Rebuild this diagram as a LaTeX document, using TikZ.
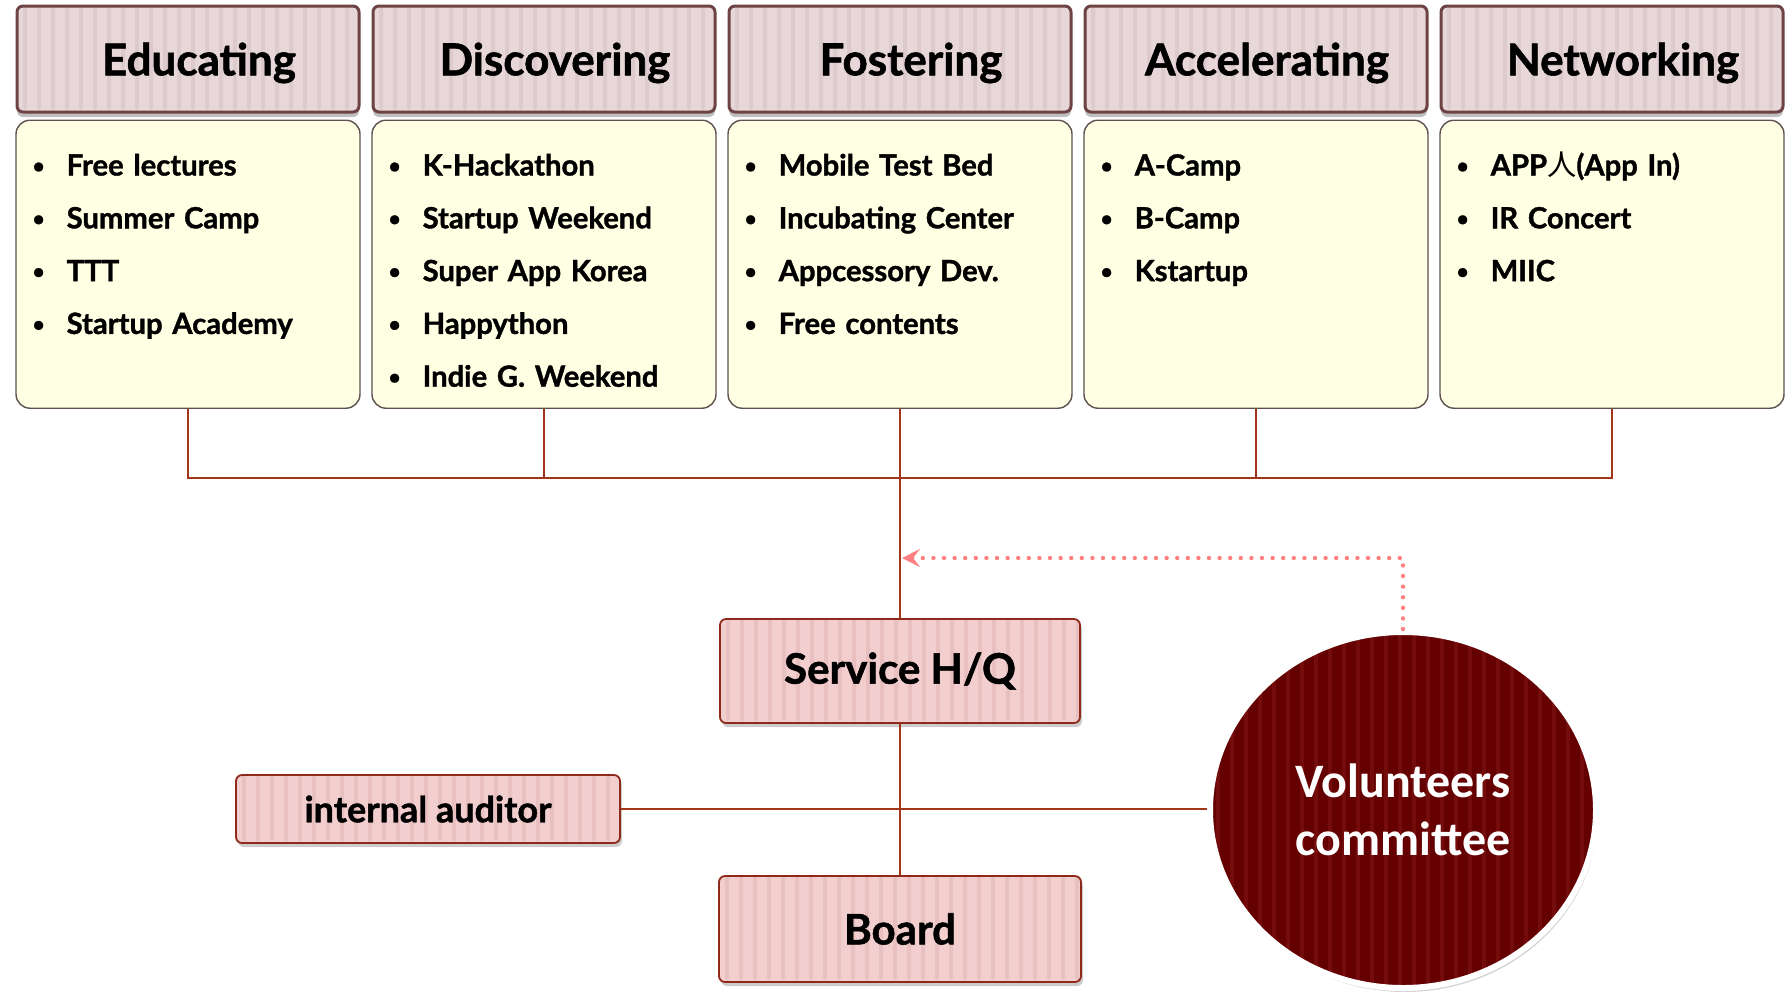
\documentclass[tikz,border=0pt]{standalone}
\usepackage{fontspec}
\setmainfont{Lato}[BoldFeatures={FakeBold=1.3}]
\newfontfamily\calfont{Carlito}
\newfontfamily\cjk{Noto Sans CJK KR}
\usetikzlibrary{shapes.geometric, arrows.meta, positioning, calc, shadows}

\definecolor{headfill}{RGB}{231, 215, 217}
\definecolor{headstripe}{RGB}{220, 202, 205}
\definecolor{headdraw}{RGB}{110, 67, 67}
\definecolor{listfill}{RGB}{255, 255, 228}
\definecolor{listdraw}{RGB}{94, 80, 80}
\definecolor{orgfill}{RGB}{242, 206, 206}
\definecolor{orgstripe}{RGB}{232, 192, 192}
\definecolor{orgdraw}{RGB}{143, 42, 26}
\definecolor{linkred}{RGB}{163, 53, 25}
\definecolor{dotred}{RGB}{255, 128, 128}
\definecolor{volfill}{RGB}{101, 0, 0}
\definecolor{volstripe}{RGB}{116, 12, 12}

\newcommand{\itembul}{\makebox[17pt][l]{\raisebox{1.2pt}{\scalebox{0.7}{\textbullet}}}}
\newcommand{\headpad}{\hspace*{11pt}}

\tikzset{
  stripes/.style={path picture={
    \foreach \k in {0,...,30}
      \fill[#1] ($(path picture bounding box.south west)+(\k*14+6,0)$) rectangle ++(4,-440);
  }},
  headbox/.style={draw=headdraw, line width=1.5pt, fill=headfill, stripes=headstripe,
    rounded corners=3pt, minimum width=171pt, minimum height=53pt, text depth=0pt,
    font=\fontsize{22}{25}\selectfont\bfseries,
    drop shadow={opacity=0.5, shadow xshift=0pt, shadow yshift=-2.5pt}},
  listbox/.style={draw=listdraw, line width=0.7pt, fill=listfill,
    rounded corners=7pt, minimum width=172pt, minimum height=144pt},
  itemtext/.style={anchor=base west, align=left, inner sep=0pt, text width=165pt,
    font=\fontsize{14.6}{26.4}\selectfont\bfseries},
  orgbox/.style={draw=orgdraw, line width=0.9pt, fill=orgfill, stripes=orgstripe,
    rounded corners=3pt, drop shadow={opacity=0.4, shadow xshift=1pt, shadow yshift=-2pt}},
  link/.style={draw=linkred, line width=0.9pt},
  feedback/.style={draw=dotred, line width=2.2pt, line cap=round,
    dash pattern=on 0pt off 5.3pt,
    -{Stealth[length=9pt, width=9pt, inset=3.5pt]}}
}

\begin{document}
\begin{tikzpicture}[x=0.5pt, y=-0.5pt]
  \useasboundingbox (0,0) rectangle (1786,993);

  % Headers
  \node[headbox] (educHead) at (188,59) {\headpad Educating};
  \node[headbox] (discHead) at (544,59) {\headpad Discovering};
  \node[headbox] (fostHead) at (900,59) {\headpad Fostering};
  \node[headbox] (accHead) at (1256,59) {\headpad Accelerating};
  \node[headbox] (netHead) at (1612,59) {\headpad Networking};

  % Program boxes
  \node[listbox, below=3pt of educHead] (educBox) {};
  \node[listbox, below=3pt of discHead] (discBox) {};
  \node[listbox, below=3pt of fostHead] (fostBox) {};
  \node[listbox, below=3pt of accHead] (accBox) {};
  \node[listbox, below=3pt of netHead] (netBox) {};

  \node[itemtext] (educItems) at ($(educBox.north west)+(17,56)$) {
    \itembul Free lectures\\ \itembul Summer Camp\\ \itembul TTT\\ \itembul Startup Academy};
  \node[itemtext] (discItems) at ($(discBox.north west)+(17,56)$) {
    \itembul K-Hackathon\\ \itembul Startup Weekend\\ \itembul Super App Korea\\
    \itembul Happython\\ \itembul Indie G. Weekend};
  \node[itemtext] (fostItems) at ($(fostBox.north west)+(17,56)$) {
    \itembul Mobile Test Bed\\ \itembul Incubating Center\\ \itembul Appcessory Dev.\\
    \itembul Free contents};
  \node[itemtext] (accItems) at ($(accBox.north west)+(17,56)$) {
    \itembul A-Camp\\ \itembul B-Camp\\ \itembul Kstartup};
  \node[itemtext] (netItems) at ($(netBox.north west)+(17,56)$) {
    \itembul APP{\cjk\mdseries 人}(App In)\\ \itembul IR Concert\\ \itembul MIIC};

  % Organisation
  \node[orgbox, minimum width=180pt, minimum height=52pt,
    font=\fontsize{21}{25}\selectfont\bfseries] (hq) at (900,671) {Service H/Q};
  \node[orgbox, minimum width=181pt, minimum height=53pt,
    font=\fontsize{21}{25}\selectfont\bfseries] (board) at (900,929) {Board};
  \node[orgbox, minimum width=192pt, minimum height=34pt,
    font=\fontsize{18}{22}\selectfont\bfseries] (auditor) at (428,809) {internal auditor};
  \node[ellipse, draw=white, line width=3pt, fill=volfill, stripes=volstripe,
    minimum width=193pt, minimum height=178pt, align=center, text=white,
    font=\calfont\fontsize{24}{29}\selectfont\bfseries,
    drop shadow={opacity=0.35, shadow xshift=1pt, shadow yshift=-2pt}]
    (volun) at (1403,810) {Volunteers\\committee};

  % Connectors
  \coordinate (bus) at (900,478);
  \draw[link] (educBox.south) -- (educBox.south |- bus) -- (netBox.south |- bus) -- (netBox.south);
  \draw[link] (discBox.south) -- (discBox.south |- bus);
  \draw[link] (accBox.south) -- (accBox.south |- bus);
  \draw[link] (fostBox.south) -- (hq.north);
  \draw[link] (hq.south) -- (board.north);
  \draw[link] (auditor.east) -- (auditor.east -| volun.west);

  % Feedback from volunteers
  \coordinate (hqIn) at (902,558);
  \draw[feedback] (volun.north) |- (hqIn);
\end{tikzpicture}
\end{document}
